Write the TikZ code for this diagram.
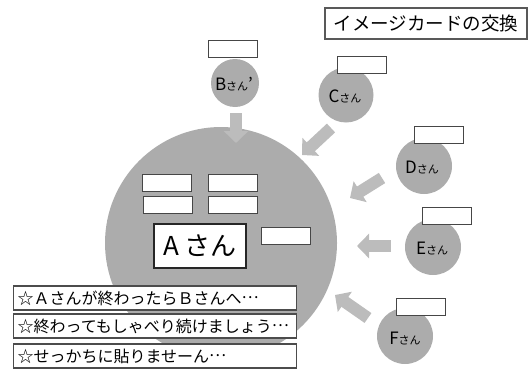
\documentclass[tikz,border=0pt]{standalone}
\usepackage{fontspec}
\setmainfont{Noto Sans CJK JP}
\usetikzlibrary{arrows.meta}
\definecolor{circgray}{RGB}{172,172,172}
\definecolor{arrgray}{RGB}{188,188,188}
\definecolor{edgegray}{RGB}{70,70,70}
\tikzset{
  bigcirc/.style={circle,fill=circgray,draw=none,minimum size=232pt,inner sep=0pt},
  smallcirc/.style={circle,fill=circgray,draw=none,minimum size=56pt,inner sep=0pt},
  card/.style={rectangle,draw=edgegray,fill=white,line width=1pt,minimum width=49pt,minimum height=17pt,inner sep=0pt},
  blockarrow/.style={draw=arrgray,line width=12pt,-{Triangle[length=12pt,width=24pt]}},
  namebox/.style={rectangle,draw=black!85,fill=white,line width=1.4pt,minimum width=92pt,minimum height=44pt,inner sep=0pt,font=\fontsize{26}{26}\selectfont},
  titlebox/.style={rectangle,draw=black!65,fill=white,line width=1.3pt,minimum width=202pt,minimum height=31pt,inner sep=0pt,font=\fontsize{18.5}{18.5}\selectfont},
  notebox/.style={rectangle,draw=black!70,fill=white,line width=1.1pt,anchor=west,text width=275pt,align=left,minimum height=24pt,inner xsep=4pt,inner ysep=0pt,font=\fontsize{16}{16}\selectfont},
  circlabel/.style={font=\fontsize{17}{17}\selectfont,inner sep=0pt}
}
\newcommand{\san}{{\fontsize{11}{11}\selectfont さん}}
\newcommand{\middots}{\raisebox{0.32em}{…}}
\begin{document}
\begin{tikzpicture}[x=1pt,y=-1pt]
\useasboundingbox (0,0) rectangle (529,372);
% circles
\node[bigcirc] (A) at (221,243) {};
\node[smallcirc,minimum size=48pt] (B) at (235,83) {};
\node[smallcirc,minimum size=55pt] (C) at (346,95) {};
\node[smallcirc] (D) at (424,166) {};
\node[smallcirc] (E) at (433,247) {};
\node[smallcirc] (F) at (405,336) {};
% labels in circles
\node[circlabel] (Bl) at (234,84) {B\san’};
\node[circlabel] (Cl) at (345,96) {C\san};
\node[circlabel] (Dl) at (422,167) {D\san};
\node[circlabel] (El) at (432,248) {E\san};
\node[circlabel] (Fl) at (405,338) {F\san};
% arrows
\coordinate (b1) at (236,113); \coordinate (b2) at (236,143);
\coordinate (c1) at (331,128); \coordinate (c2) at (302,155);
\coordinate (d1) at (382,178); \coordinate (d2) at (350,198);
\coordinate (e1) at (391,246); \coordinate (e2) at (357,246);
\coordinate (f1) at (368,318); \coordinate (f2) at (335,295);
\draw[blockarrow] (b1) -- (b2);
\draw[blockarrow] (c1) -- (c2);
\draw[blockarrow] (d1) -- (d2);
\draw[blockarrow] (e1) -- (e2);
\draw[blockarrow] (f1) -- (f2);
% cards on small circles
\node[card] (kB) at (233,48.5) {};
\node[card] (kC) at (361.5,64.5) {};
\node[card] (kD) at (438.5,134.5) {};
\node[card] (kE) at (447,215.5) {};
\node[card] (kF) at (420.5,307) {};
% cards in big circle
\node[card] (k1) at (167,183) {};
\node[card] (k2) at (232.5,183) {};
\node[card] (k3) at (167.5,204.5) {};
\node[card] (k4) at (232.5,204.5) {};
\node[card] (k5) at (285.5,235.5) {};
\node[namebox] (An) at (200,246) {A さん};
% title
\node[titlebox] (T) at (426,23.5) {イメージカードの交換};
% notes
\node[notebox] (n1) at (13,298) {☆Ａさんが終わったらＢさんへ\middots};
\node[notebox] (n2) at (13,326) {☆終わってもしゃべり続けましょう\middots};
\node[notebox] (n3) at (13,356) {☆せっかちに貼りませーん\middots};
\end{tikzpicture}
\end{document}
